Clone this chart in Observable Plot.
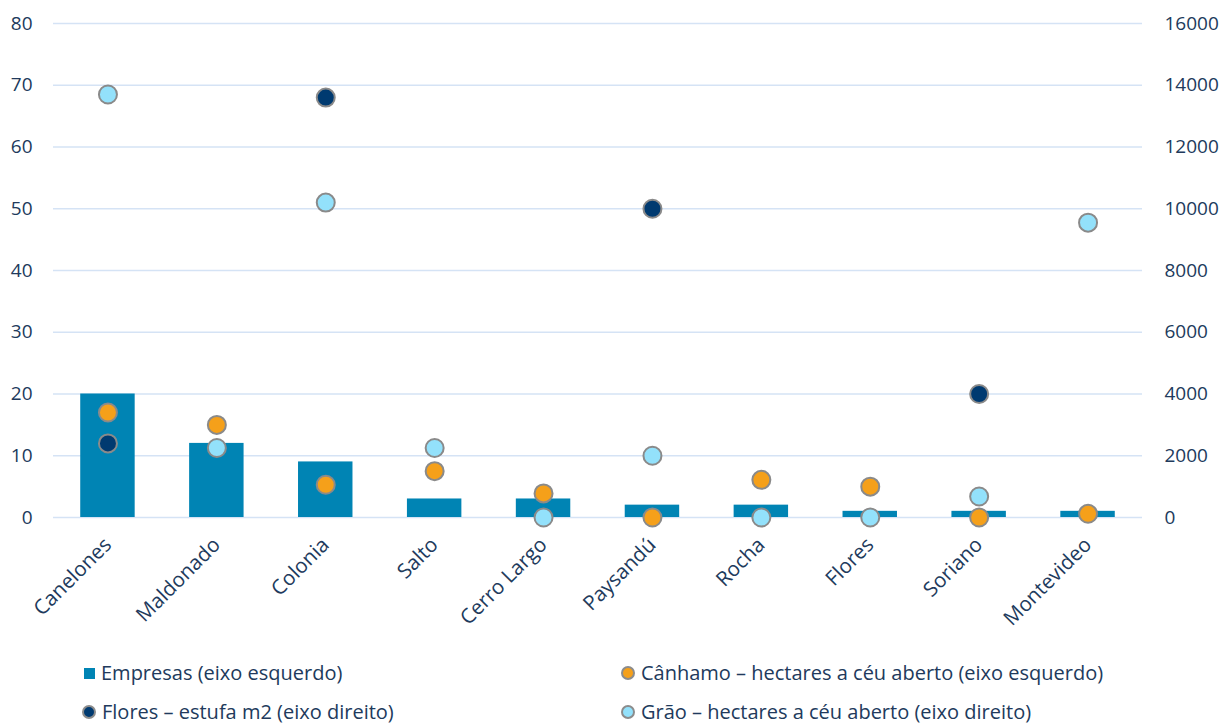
<!DOCTYPE html>
<html>
<head>
<meta charset="utf-8">
<script src="https://cdn.jsdelivr.net/npm/d3@7"></script>
<script src="https://cdn.jsdelivr.net/npm/@observablehq/plot@0.6"></script>
<style>
  html, body { margin: 0; padding: 0; background: #fff; }
  #wrap { position: relative; width: 1231px; height: 724px; font-family: "Open Sans", sans-serif; color: #213A5C; }
  .leg { position: absolute; display: flex; align-items: center; font-size: 20px; white-space: nowrap; line-height: 1; }
  .sw { display: inline-block; margin-right: 6px; box-sizing: border-box; }
  .sq { width: 11px; height: 11px; }
  .ci { width: 14px; height: 14px; border-radius: 50%; border: 2px solid #8C8C8C; }
  .xlab text { font-size: 20.5px; }
</style>
</head>
<body>
<div id="wrap">
  <div id="chart"></div>
  <div id="legend"></div>
</div>
<script>
const regions = ["Canelones", "Maldonado", "Colonia", "Salto", "Cerro Largo", "Paysandú", "Rocha", "Flores", "Soriano", "Montevideo"];
const empresas = [20, 12, 9, 3, 3, 2, 2, 1, 1, 1];
const canhamo = [17, 15, 5.3, 7.5, 3.9, 0, 6.1, 5.0, 0, 0.6];          // left axis (hectares)
const flores = [2400, null, 13600, null, null, 10000, null, null, 4000, null]; // right axis (m2)
const grao = [13700, 2250, 10200, 2250, 0, 2000, 0, 0, 680, 9550];    // right axis (hectares)
const leftTicks = [0, 10, 20, 30, 40, 50, 60, 70, 80];
const rightTicks = [0, 2000, 4000, 6000, 8000, 10000, 12000, 14000, 16000];

const seriesNames = {
  empresas: "Empresas (eixo esquerdo)",
  canhamo: "Cânhamo – hectares a céu aberto (eixo esquerdo)",
  flores: "Flores – estufa m2 (eixo direito)",
  grao: "Grão – hectares a céu aberto (eixo direito)"
};
const colors = { empresas: "#0084B4", canhamo: "#F5A01A", flores: "#003A70", grao: "#93E1FB" };
const dotStroke = "#8A8A8A";

const leftMax = leftTicks[leftTicks.length - 1];
const rightMax = rightTicks[rightTicks.length - 1];
const k = leftMax / rightMax; // right-axis value -> left-axis units

const bars = regions.map((r, i) => ({ region: r, value: empresas[i] }));
const dotsCan = regions.map((r, i) => ({ region: r, value: canhamo[i] })).filter(d => d.value != null);
const dotsFlo = regions.map((r, i) => ({ region: r, value: flores[i] })).filter(d => d.value != null);
const dotsGra = regions.map((r, i) => ({ region: r, value: grao[i] })).filter(d => d.value != null);

const chart = Plot.plot({
  width: 1231,
  height: 640,
  marginLeft: 53,
  marginRight: 89,
  marginTop: 23,
  marginBottom: 123,
  style: { fontFamily: "Open Sans, sans-serif", fontSize: "19px", color: "#213A5C", background: "#fff" },
  x: { domain: regions, paddingInner: 0.5, paddingOuter: 0.25, round: false, label: null },
  y: { domain: [0, leftMax], label: null },
  marks: [
    Plot.gridY(leftTicks, { stroke: "#D5E3F5", strokeOpacity: 1, strokeWidth: 1.5 }),
    Plot.axisY(leftTicks, { anchor: "left", tickSize: 0, tickPadding: 21, label: null }),
    Plot.axisY(rightTicks.map(v => v * k), { anchor: "right", tickSize: 0, tickPadding: 22, label: null, tickFormat: (d) => String(Math.round(d / k)), textAnchor: "start" }),
    Plot.axisX({ tickSize: 0, tickRotate: -45, tickPadding: 24, label: null, className: "xlab" }),
    Plot.barY(bars, { x: "region", y: "value", fill: colors.empresas }),
    Plot.dot(dotsCan, { x: "region", y: "value", r: 9, fill: colors.canhamo, stroke: dotStroke, strokeWidth: 2 }),
    Plot.dot(dotsFlo, { x: "region", y: d => d.value * k, r: 9, fill: colors.flores, stroke: dotStroke, strokeWidth: 2 }),
    Plot.dot(dotsGra, { x: "region", y: d => d.value * k, r: 9, fill: colors.grao, stroke: dotStroke, strokeWidth: 2 })
  ]
});
document.getElementById("chart").appendChild(chart);

// Legend
const legendItems = [
  { key: "empresas", shape: "sq", left: 84, top: 663 },
  { key: "canhamo", shape: "ci", left: 621, top: 663 },
  { key: "flores", shape: "ci", left: 82, top: 702 },
  { key: "grao", shape: "ci", left: 621, top: 702 }
];
const legend = document.getElementById("legend");
for (const it of legendItems) {
  const el = document.createElement("div");
  el.className = "leg";
  el.style.left = it.left + "px";
  el.style.top = it.top + "px";
  const sw = document.createElement("span");
  sw.className = "sw " + it.shape;
  sw.style.background = colors[it.key];
  const tx = document.createElement("span");
  tx.textContent = seriesNames[it.key];
  el.appendChild(sw);
  el.appendChild(tx);
  legend.appendChild(el);
}
</script>
</body>
</html>
